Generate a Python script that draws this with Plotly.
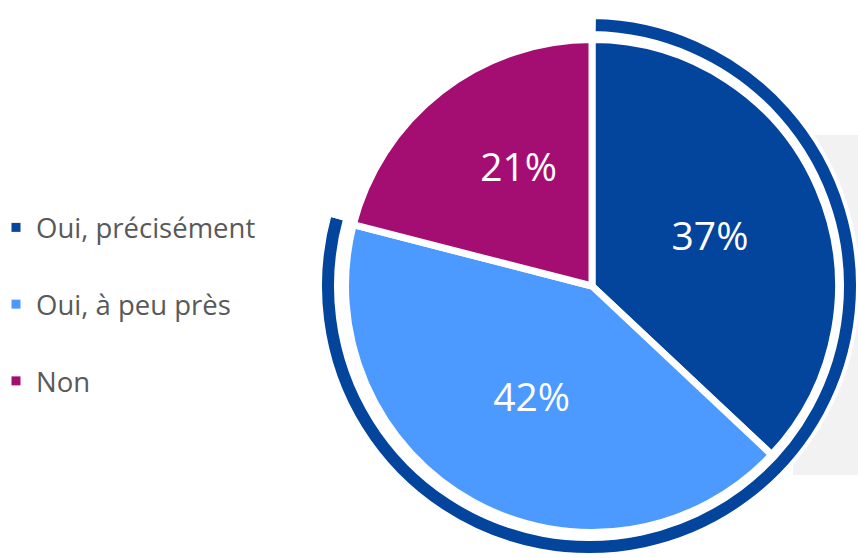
import plotly.graph_objects as go

# data
labels = ["Oui, précisément", "Oui, à peu près", "Non"]
values = [37, 42, 21]
colors = ["#03449C", "#4C9AFF", "#A40E73"]

ring_labels = ["Oui", "Non"]
ring_values = [values[0] + values[1], values[2]]

W, H = 858, 558


def px_domain(cx, cy, r):
    # pixel centre / radius -> paper domain (cy measured from the top)
    return dict(
        x=[max(0, (cx - r) / W), min(1, (cx + r) / W)],
        y=[max(0, (H - cy - r) / H), min(1, (H - cy + r) / H)],
    )


fig = go.Figure()

# outer arc around the two "Oui" answers
fig.add_trace(
    go.Pie(
        labels=ring_labels,
        values=ring_values,
        sort=False,
        direction="clockwise",
        rotation=1,
        hole=253 / 269,
        marker=dict(colors=[colors[0], "rgba(0,0,0,0)"], line=dict(color="white", width=4)),
        textinfo="none",
        hoverinfo="skip",
        showlegend=False,
        domain=px_domain(589, 286, 269),
    )
)

# the "Non" label sits a little further right in the original
templates = ["%{value}%", "%{value}%", "\u00a0\u00a0\u00a0\u00a0%{value}%"]

fig.add_trace(
    go.Pie(
        labels=labels,
        values=values,
        sort=False,
        direction="clockwise",
        rotation=0,
        marker=dict(colors=colors, line=dict(color="white", width=7)),
        texttemplate=templates,
        textposition="inside",
        insidetextorientation="horizontal",
        textfont=dict(family="Open Sans", size=39, color="white"),
        hoverinfo="label+percent",
        showlegend=False,
        domain=px_domain(592, 286, 246.5),
    )
)

# legend entries (square markers, spaced like the original)
for lab, col in zip(labels, colors):
    fig.add_trace(
        go.Scatter(
            x=[None],
            y=[None],
            mode="markers",
            name=lab,
            legendgroup=lab,
            marker=dict(symbol="square", size=9, color=col),
        )
    )

fig.add_shape(
    type="rect",
    xref="paper",
    yref="paper",
    x0=793 / W,
    x1=1,
    y0=1 - 475 / H,
    y1=1 - 135 / H,
    fillcolor="#F2F2F2",
    line_width=0,
    layer="below",
)

fig.update_xaxes(visible=False)
fig.update_yaxes(visible=False)
fig.update_layout(
    width=W,
    height=H,
    margin=dict(l=0, r=0, t=0, b=0, autoexpand=False),
    paper_bgcolor="white",
    plot_bgcolor="rgba(0,0,0,0)",
    legend=dict(
        x=-4 / W,
        xanchor="left",
        y=1 - 203 / H,
        yanchor="top",
        traceorder="grouped",
        tracegroupgap=38,
        font=dict(family="Open Sans", size=27.5, color="#595959"),
        bgcolor="rgba(0,0,0,0)",
    ),
)

fig.write_html(
    "out.html",
    config={"displayModeBar": False},
    post_script="document.body.style.margin='0';document.body.style.overflow='hidden';",
)
